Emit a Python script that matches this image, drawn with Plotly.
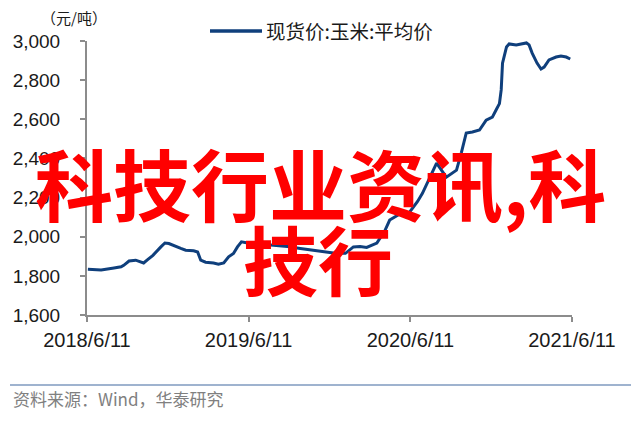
import plotly.graph_objects as go

# ---- data ----
dates = [
    "2018-06-13", "2018-07-13", "2018-08-11", "2018-08-27", "2018-09-02", "2018-09-14",
    "2018-09-29", "2018-10-11", "2018-10-17", "2018-10-26", "2018-11-07", "2018-11-25",
    "2018-12-04", "2018-12-13", "2018-12-26", "2019-01-09", "2019-01-20", "2019-02-07",
    "2019-02-16", "2019-02-23", "2019-03-06", "2019-03-24", "2019-04-04", "2019-04-16",
    "2019-04-27", "2019-05-08", "2019-05-17", "2019-05-26", "2019-06-09", "2019-06-22",
    "2019-07-31", "2019-09-07", "2019-10-06", "2019-11-20", "2019-12-24", "2020-01-16",
    "2020-02-03", "2020-02-18", "2020-03-04", "2020-03-27", "2020-04-14", "2020-04-25",
    "2020-05-17", "2020-06-09", "2020-06-27", "2020-07-08", "2020-07-24", "2020-08-09",
    "2020-08-31", "2020-09-23", "2020-10-04", "2020-10-15", "2020-10-29", "2020-11-14",
    "2020-11-29", "2020-12-13", "2020-12-22", "2020-12-29", "2021-01-02", "2021-01-05",
    "2021-01-14", "2021-01-20", "2021-02-05", "2021-02-16", "2021-02-28", "2021-03-06",
    "2021-03-13", "2021-03-24", "2021-04-02", "2021-04-09", "2021-04-20", "2021-05-06",
    "2021-05-17", "2021-05-29", "2021-06-07",
]
prices = [
    1834, 1830, 1840, 1846, 1854, 1876,
    1880, 1871, 1866, 1883, 1905, 1948,
    1968, 1965, 1951, 1940, 1931, 1928,
    1922, 1880, 1870, 1866, 1859, 1866,
    1897, 1914, 1948, 1974, 1968, 1961,
    1958, 1950, 1940, 1925, 1915, 1915,
    1948, 1950, 1945, 1967, 2030, 2085,
    2115, 2125, 2180, 2222, 2300, 2376,
    2304, 2340, 2430, 2530, 2535, 2545,
    2596, 2611, 2650, 2680, 2750, 2887,
    2970, 2985, 2980, 2985, 2990, 2980,
    2938, 2887, 2857, 2867, 2903, 2918,
    2923, 2918, 2908,
]
series_name = "现货价:玉米:平均价"
x_tick_vals = ["2018-06-11", "2019-06-11", "2020-06-11", "2021-06-11"]
x_tick_text = ["2018/6/11", "2019/6/11", "2020/6/11", "2021/6/11"]
y_tick_vals = [1600, 1800, 2000, 2200, 2400, 2600, 2800, 3000]
y_tick_text = ["1,600", "1,800", "2,000", "2,200", "2,400", "2,600", "2,800", "3,000"]
unit_label = "（元/吨）"
source_text = "资料来源：Wind，华泰研究"
watermark_line1 = "科技行业资讯,科"
watermark_line2 = "技行"

# page body has an 8px margin: the figure is drawn at (8, 8)
OFF = 8
W, H = 639 - OFF, 422 - OFF
PL, PR, PT, PB = 87, 572, 41, 315          # plot box in window pixels
L, R, T, B = PL - OFF, W - (PR - OFF), PT - OFF, H - (PB - OFF)
pw, ph = PR - PL, PB - PT


def px(x):
    return (x - PL) / pw


def py(y):
    return (PB - y) / ph


CJK = "Noto Sans CJK SC"
LAT = "Liberation Sans, Arial"
LINE_COL = "#0f3f7c"

fig = go.Figure()
fig.add_trace(go.Scatter(
    x=dates, y=prices, mode="lines", name=series_name,
    line=dict(color=LINE_COL, width=3), showlegend=False,
))

axis_col = "#8c8c8c"
fig.update_layout(
    width=W, height=H,
    margin=dict(l=L, r=R, t=T, b=B, autoexpand=False),
    paper_bgcolor="white", plot_bgcolor="white",
    showlegend=False,
    xaxis=dict(
        type="date", range=["2018-06-11", "2021-06-11"],
        tickvals=x_tick_vals, ticktext=x_tick_text,
        showgrid=False, zeroline=False,
        showline=True, linecolor=axis_col, linewidth=2,
        ticks="outside", ticklen=5, tickcolor=axis_col, tickwidth=2,
        tickfont=dict(family=LAT, size=20, color="#1a1a1a"),
        ticklabelstandoff=1,
    ),
    yaxis=dict(
        range=[1600, 3000],
        tickvals=y_tick_vals, ticktext=y_tick_text,
        showgrid=False, zeroline=False,
        showline=True, linecolor=axis_col, linewidth=2,
        ticks="outside", ticklen=5, tickcolor=axis_col, tickwidth=2,
        tickfont=dict(family=LAT, size=19, color="#1a1a1a"),
        ticklabelstandoff=16,
    ),
    annotations=[
        dict(text=unit_label, xref="paper", yref="paper", x=px(74), y=py(17),
             xanchor="center", yanchor="middle", showarrow=False,
             font=dict(family=CJK, size=15, color="#1a1a1a")),
        dict(text=series_name, xref="paper", yref="paper", x=px(264), y=py(31),
             xanchor="left", yanchor="middle", showarrow=False,
             font=dict(family=CJK, size=19.5, color="#1a1a1a")),
        dict(text=source_text, xref="paper", yref="paper", x=px(11), y=py(398),
             xanchor="left", yanchor="middle", showarrow=False,
             font=dict(family=CJK, size=17, color="#808080")),
        dict(text=watermark_line1, xref="paper", yref="paper", x=px(320), y=py(182),
             xanchor="center", yanchor="middle", showarrow=False,
             font=dict(family=CJK, size=78, color="#ff0000", weight=700)),
        dict(text=watermark_line2, xref="paper", yref="paper", x=px(318), y=py(257),
             xanchor="center", yanchor="middle", showarrow=False,
             font=dict(family=CJK, size=75, color="#ff0000", weight=700)),
    ],
    shapes=[
        dict(type="line", xref="paper", yref="paper", x0=px(210), x1=px(262),
             y0=py(31), y1=py(31), line=dict(color=LINE_COL, width=3.5)),
        dict(type="line", xref="paper", yref="paper", x0=px(10), x1=px(632),
             y0=py(385), y1=py(385), line=dict(color="#9fb3cf", width=2)),
    ],
)

fig.write_html("out.html")
